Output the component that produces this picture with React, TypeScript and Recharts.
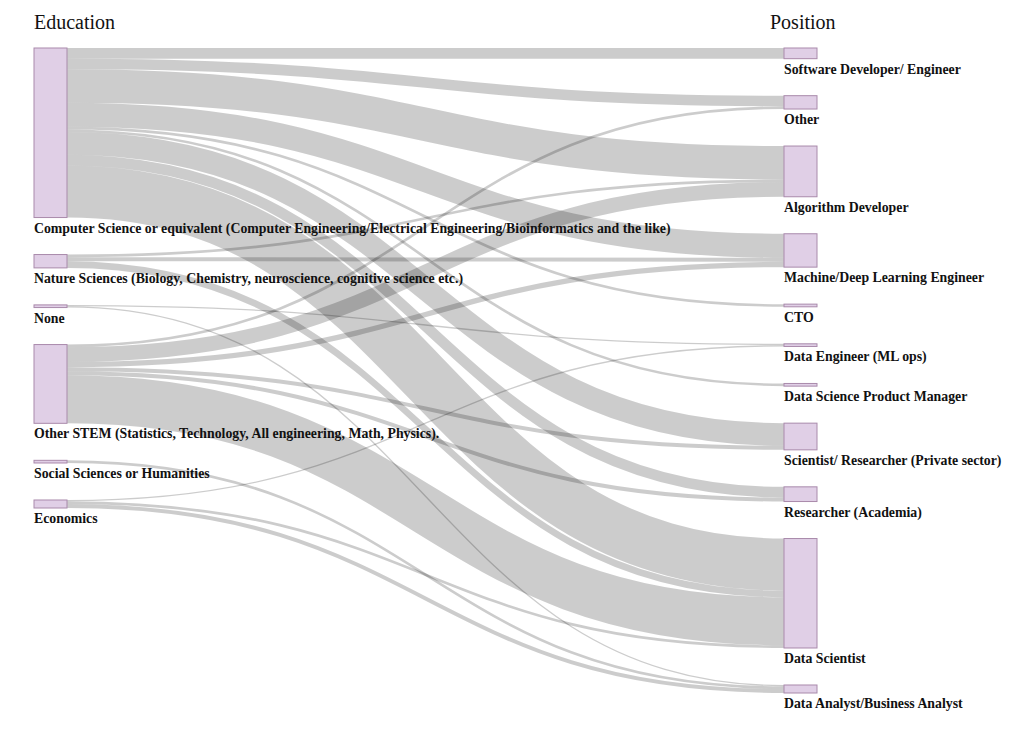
import { Sankey } from "recharts";

const educations = [
  "Computer Science or equivalent (Computer Engineering/Electrical Engineering/Bioinformatics and the like)",
  "Nature Sciences (Biology, Chemistry, neuroscience, cognitive science etc.)",
  "None",
  "Other STEM (Statistics, Technology, All engineering, Math, Physics).",
  "Social Sciences or Humanities",
  "Economics",
];

const positions = [
  "Software Developer/ Engineer",
  "Other",
  "Algorithm Developer",
  "Machine/Deep Learning Engineer",
  "CTO",
  "Data Engineer (ML ops)",
  "Data Science Product Manager",
  "Scientist/ Researcher (Private sector)",
  "Researcher (Academia)",
  "Data Scientist",
  "Data Analyst/Business Analyst",
];

// [education index, position index, respondents]
const flows: [number, number, number][] = [
  [0, 0, 8],
  [0, 1, 8],
  [0, 2, 25],
  [0, 3, 18],
  [0, 4, 2],
  [0, 6, 2],
  [0, 7, 17],
  [0, 8, 8],
  [0, 9, 39],
  [1, 2, 2],
  [1, 3, 3],
  [1, 9, 5],
  [2, 5, 1],
  [2, 10, 1],
  [3, 1, 2],
  [3, 2, 11],
  [3, 3, 4],
  [3, 7, 3],
  [3, 8, 3],
  [3, 9, 36],
  [4, 10, 2],
  [5, 5, 1],
  [5, 9, 2],
  [5, 10, 3],
];

const data = {
  nodes: [...educations, ...positions].map((name) => ({ name })),
  links: flows.map(([s, t, v]) => ({ source: s, target: educations.length + t, value: v })),
};

const serif = "'Liberation Serif', 'Times New Roman', Times, serif";

function NodeShape(props: any) {
  const { x, y, width, height, payload } = props;
  return (
    <g>
      <rect x={x} y={y} width={width} height={height} fill="#e0cfe6" stroke="#a98aab" strokeWidth={1} />
      <text x={x} y={y + height + 15} fontFamily={serif} fontWeight="bold" fontSize={13.8} fill="#111">
        {payload.name}
      </text>
    </g>
  );
}

function LinkShape(props: any) {
  const { sourceX, targetX, sourceY, targetY, sourceControlX, targetControlX, linkWidth } = props;
  return (
    <path
      d={`M${sourceX},${sourceY}C${sourceControlX},${sourceY} ${targetControlX},${targetY} ${targetX},${targetY}`}
      fill="none"
      stroke="#000"
      strokeOpacity={0.2}
      strokeWidth={linkWidth}
    />
  );
}

const titleStyle: React.CSSProperties = {
  position: "absolute",
  top: 3,
  fontFamily: serif,
  fontSize: 20,
  color: "#111",
};

export default function App() {
  return (
    <div style={{ position: "relative", width: 1008, height: 720 }}>
      <Sankey
        width={1008}
        height={720}
        data={data}
        nodeWidth={33}
        nodePadding={37}
        iterations={0}
        margin={{ top: 40, left: 26, right: 199, bottom: 35 }}
        node={NodeShape}
        link={LinkShape}
      />
      <div style={{ ...titleStyle, left: 26 }}>Education</div>
      <div style={{ ...titleStyle, left: 762 }}>Position</div>
    </div>
  );
}
